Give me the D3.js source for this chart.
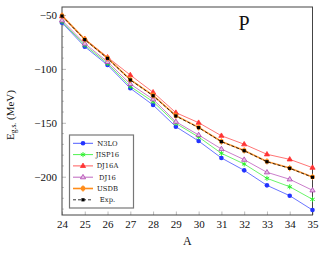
<!DOCTYPE html>
<html>
<head>
<meta charset="utf-8">
<script src="https://cdn.jsdelivr.net/npm/d3@7"></script>
<style>
body { margin: 0; background: #fff; }
text { font-family: "Liberation Serif", "DejaVu Serif", serif; }
</style>
</head>
<body>
<script>
var width = 327, height = 253;

// data
var massNumbers = [24, 25, 26, 27, 28, 29, 30, 31, 32, 33, 34, 35];
var n3lo   = [-57.2, -79.4, -96.4, -118.0, -133.5, -153.6, -166.9, -182.6, -194.1, -208.0, -217.6, -230.9];
var jisp16 = [-56.2, -78.0, -95.0, -116.3, -130.4, -150.5, -163.2, -178.3, -188.2, -201.5, -209.3, -221.0];
var dj16a  = [-51.2, -72.2, -89.2, -105.7, -121.7, -140.6, -149.9, -162.0, -169.9, -179.2, -183.9, -191.6];
var dj16   = [-55.0, -76.5, -93.5, -114.0, -128.2, -149.0, -161.3, -174.3, -184.2, -195.9, -202.4, -212.6];
var usdb   = [-50.6, -72.6, -90.0, -110.0, -124.6, -143.4, -154.2, -167.3, -175.6, -185.8, -192.0, -200.2];
var expt   = [-51.0, -72.9, -90.2, -110.3, -124.9, -143.7, -154.5, -167.5, -175.9, -186.1, -192.2, -200.5];
var yTicks = [-50, -100, -150, -200];
var seriesNames = ["N3LO", "JISP16", "DJ16A", "DJ16", "USDB", "Exp."];

var svg = d3.select('body').append('svg')
  .attr('width', width)
  .attr('height', height);

var pLeft = 62, pRight = 312.5, pTop = 7, pBottom = 215;

var x = d3.scaleLinear().domain([24, 35]).range([pLeft, pRight]);
var y = d3.scaleLinear().domain([-235.5, -42.6]).range([pBottom, pTop]);

// ticks (inside)
var xAxis = d3.axisBottom(x).tickValues(massNumbers).tickSize(-3.5).tickPadding(7).tickFormat(d3.format("d"));
var gx = svg.append("g").attr("transform", "translate(0," + pBottom + ")").call(xAxis);
gx.select(".domain").remove();
gx.selectAll("line").attr("stroke", "#aaa").attr("stroke-width", 0.8);
gx.selectAll("text").attr("font-size", 11).attr("fill", "#111")
  .style("font-family", "'Liberation Serif', serif").attr("dy", "0.35em").attr("y", 9);

var yMinor = d3.range(-230, -40, 10).filter(function(d){ return yTicks.indexOf(d) < 0; });
svg.append("g").selectAll("line").data(yMinor).enter().append("line")
  .attr("x1", pLeft).attr("x2", pLeft + 2)
  .attr("y1", function(d){ return y(d); }).attr("y2", function(d){ return y(d); })
  .attr("stroke", "#aaa").attr("stroke-width", 0.7);

var yAxis = d3.axisLeft(y).tickValues(yTicks).tickSize(-4).tickPadding(5)
  .tickFormat(function(d){ return "\u2212" + Math.abs(d); });
var gy = svg.append("g").attr("transform", "translate(" + pLeft + ",0)").call(yAxis);
gy.select(".domain").remove();
gy.selectAll("line").attr("stroke", "#aaa").attr("stroke-width", 0.8);
gy.selectAll("text").attr("font-size", 11).attr("fill", "#111")
  .style("font-family", "'Liberation Serif', serif");

// frame
svg.append("rect")
  .attr("x", pLeft).attr("y", pTop)
  .attr("width", pRight - pLeft).attr("height", pBottom - pTop)
  .attr("fill", "none").attr("stroke", "#444").attr("stroke-width", 1);

var lineFunction = d3.line()
  .x(function(d, i){ return x(massNumbers[i]); })
  .y(function(d){ return y(d); });

var series = [
  { name: "N3LO",   vals: n3lo,   color: "#2233ff", width: 0.8, dash: null, marker: "circle" },
  { name: "JISP16", vals: jisp16, color: "#22ee22", width: 0.8, dash: null, marker: "star" },
  { name: "DJ16A",  vals: dj16a,  color: "#ff3333", width: 0.8, dash: null, marker: "tri" },
  { name: "DJ16",   vals: dj16,   color: "#b040b0", width: 0.8, dash: null, marker: "otri" },
  { name: "USDB",   vals: usdb,   color: "#ff8c1a", width: 1.6, dash: null, marker: "dia" },
  { name: "Exp.",   vals: expt,   color: "#000000", width: 0.8, dash: "3,2", marker: "square" }
];

function drawMarker(g, s, cx, cy) {
  if (s.marker === "circle") {
    g.append("circle").attr("cx", cx).attr("cy", cy).attr("r", 2.3).attr("fill", s.color);
  } else if (s.marker === "star") {
    g.append("path").attr("transform", "translate(" + cx + "," + cy + ")")
      .attr("d", d3.symbol().type(d3.symbolAsterisk).size(18)())
      .attr("stroke", s.color).attr("stroke-width", 0.9).attr("fill", "none");
  } else if (s.marker === "tri" || s.marker === "otri") {
    var p = "M0,-2.8L2.6,1.6L-2.6,1.6Z";
    g.append("path").attr("transform", "translate(" + cx + "," + cy + ")").attr("d", p)
      .attr("fill", s.marker === "tri" ? s.color : "#e6bfe6")
      .attr("stroke", s.color).attr("stroke-width", 0.8);
  } else if (s.marker === "dia") {
    g.append("circle").attr("cx", cx).attr("cy", cy).attr("r", 2.4).attr("fill", s.color);
    g.append("path").attr("d", "M" + cx + "," + (cy - 3.2) + "V" + (cy + 3.2))
      .attr("stroke", s.color).attr("stroke-width", 1);
  } else if (s.marker === "square") {
    g.append("rect").attr("x", cx - 1.6).attr("y", cy - 1.6).attr("width", 3.2).attr("height", 3.2)
      .attr("fill", "#000");
  }
}

series.forEach(function(s) {
  var g = svg.append("g");
  g.append("path")
    .attr("d", lineFunction(s.vals))
    .attr("fill", "none")
    .attr("stroke", s.color)
    .attr("stroke-width", s.width)
    .attr("stroke-dasharray", s.dash)
    .attr("stroke-opacity", s.name === "Exp." ? 1 : 0.85);
  s.vals.forEach(function(v, i){ drawMarker(g, s, x(massNumbers[i]), y(v)); });
});

// legend
var lg = svg.append("g");
lg.append("rect")
  .attr("x", 69.5).attr("y", 135).attr("width", 64).attr("height", 73)
  .attr("fill", "#fff").attr("stroke", "#777").attr("stroke-width", 1.2);
series.forEach(function(s, i) {
  var ly = 143.3 + i * 11.3;
  lg.append("line").attr("x1", 73).attr("x2", 93).attr("y1", ly).attr("y2", ly)
    .attr("stroke", s.color).attr("stroke-width", s.width).attr("stroke-dasharray", s.dash);
  drawMarker(lg, s, 83, ly);
  lg.append("text").attr("x", 107.5).attr("y", ly).attr("dy", "0.35em")
    .attr("text-anchor", "middle").attr("font-size", 6.8).attr("fill", "#222")
    .style("font-family", "'DejaVu Serif', serif")
    .text(seriesNames[i]);
});

// title letter
svg.append("text").attr("x", 244).attr("y", 30).attr("text-anchor", "middle")
  .attr("font-size", 20).attr("fill", "#111").text("P");

// axis labels
svg.append("text").attr("x", (pLeft + pRight) / 2).attr("y", 245).attr("text-anchor", "middle")
  .attr("font-size", 12).attr("fill", "#111").text("A");

var yl = svg.append("text")
  .attr("transform", "translate(14," + 115 + ") rotate(-90)")
  .attr("text-anchor", "middle").attr("font-size", 11).attr("fill", "#111");
yl.append("tspan").text("E");
yl.append("tspan").attr("font-size", 7.5).attr("dy", 2).text("g.s.");
yl.append("tspan").attr("dy", -2).text(" (MeV)");
</script>
</body>
</html>
